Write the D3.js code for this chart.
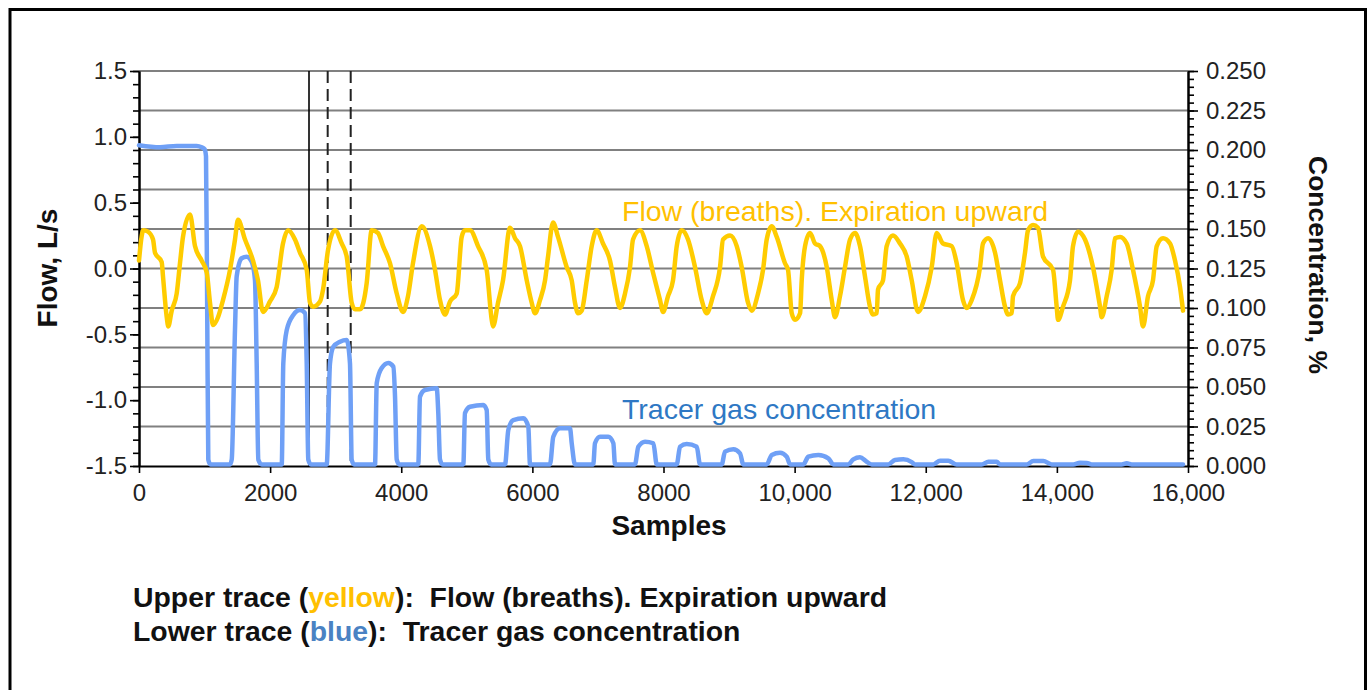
<!DOCTYPE html>
<html>
<head>
<meta charset="utf-8">
<script src="https://cdn.jsdelivr.net/npm/d3@7"></script>
<style>
  html, body { margin: 0; padding: 0; background: #fff; }
  svg { display: block; font-family: "Liberation Sans", Arial, Helvetica, sans-serif; }
</style>
</head>
<body>
<svg id="chart" width="1369" height="690"></svg>
<script>
// Flow trace (L/s) against sample number
const flowSamples = [
  0, 66, 137, 214, 244, 346, 366, 423, 447, 499, 575, 625, 671, 778, 854, 956,
  1033, 1083, 1129, 1205, 1281, 1388, 1464, 1510, 1617, 1739, 1815, 1891, 1998,
  2100, 2196, 2273, 2379, 2456, 2558, 2608, 2654, 2761, 2807, 2883, 2990, 3092,
  3168, 3244, 3295, 3371, 3473, 3549, 3645, 3722, 3828, 3931, 4027, 4103, 4179,
  4312, 4439, 4515, 4591, 4667, 4744, 4846, 4922, 4972, 5049, 5171, 5303, 5380,
  5400, 5476, 5552, 5659, 5735, 5811, 5914, 5990, 6040, 6116, 6193, 6239, 6315,
  6391, 6524, 6600, 6650, 6696, 6752, 6829, 6905, 6981, 7077, 7184, 7260, 7337,
  7413, 7489, 7535, 7642, 7744, 7840, 7947, 7993, 8069, 8145, 8202, 8278, 8374,
  8481, 8583, 8659, 8755, 8862, 8908, 9015, 9117, 9193, 9289, 9346, 9442, 9518,
  9574, 9651, 9727, 9853, 9899, 9956, 10006, 10083, 10108, 10159, 10235, 10311,
  10387, 10490, 10566, 10616, 10692, 10768, 10845, 10921, 10997, 11073, 11149,
  11195, 11252, 11272, 11348, 11404, 11500, 11607, 11710, 11786, 11882, 11989,
  12091, 12167, 12263, 12396, 12472, 12568, 12625, 12701, 12828, 12873, 12950,
  13057, 13133, 13209, 13255, 13311, 13331, 13438, 13514, 13560, 13636, 13712,
  13789, 13941, 13997, 14018, 14094, 14200, 14246, 14323, 14429, 14551, 14658,
  14684, 14760, 14836, 14886, 14963, 15065, 15161, 15268, 15314, 15390, 15466,
  15523, 15619, 15726, 15802, 15878, 15924
];
const flowValues = [
  0.06, 0.29, 0.28, 0.22, 0.12, 0.05, -0.06, -0.37, -0.44, -0.32, -0.19, 0.04, 0.24, 0.41, 0.17, 0.06,
  -0.03, -0.26, -0.43, -0.37, -0.24, -0.01, 0.22, 0.37, 0.22, 0.06, -0.09, -0.33, -0.25,
  -0.14, 0.19, 0.29, 0.22, 0.12, -0.01, -0.26, -0.29, -0.25, -0.16, 0.14, 0.29, 0.19,
  0.09, -0.26, -0.31, -0.31, -0.11, 0.29, 0.27, 0.17, 0.04, -0.19, -0.33, -0.21, 0.04,
  0.32, 0.17, -0.01, -0.24, -0.35, -0.25, -0.19, 0.24, 0.29, 0.29, 0.17, -0.01, -0.39,
  -0.44, -0.26, -0.09, 0.31, 0.23, 0.17, -0.09, -0.26, -0.34, -0.24, -0.09, 0.09, 0.35,
  0.24, 0.01, -0.09, -0.26, -0.34, -0.32, -0.09, 0.17, 0.29, 0.19, 0.06, -0.14, -0.30,
  -0.19, 0.01, 0.22, 0.29, 0.17, -0.03, -0.24, -0.33, -0.21, -0.09, 0.17, 0.29, 0.22,
  0.01, -0.24, -0.34, -0.21, 0.01, 0.22, 0.25, 0.17, 0.01, -0.26, -0.32, -0.19, -0.01,
  0.22, 0.32, 0.24, 0.04, -0.01, -0.34, -0.39, -0.34, -0.09, 0.17, 0.27, 0.19,
  0.17, 0.01, -0.24, -0.37, -0.21, 0.01, 0.22, 0.27, 0.17, -0.06, -0.29,
  -0.35, -0.34, -0.16, -0.09, 0.17, 0.25, 0.19, 0.09, -0.09, -0.33, -0.21,
  0.01, 0.27, 0.19, 0.17, 0.04, -0.24, -0.30, -0.24, 0.01, 0.19, 0.23,
  0.12, -0.09, -0.29, -0.35, -0.34, -0.21, -0.11, 0.12, 0.29, 0.33, 0.31,
  0.09, -0.01, -0.29, -0.39, -0.29, -0.09, 0.17, 0.28, 0.22, 0.01, -0.29,
  -0.37, -0.21, -0.01, 0.23, 0.24, 0.19, -0.01, -0.29, -0.44, -0.21, -0.09,
  0.17, 0.23, 0.19, 0.06, -0.14, -0.32
];

// Tracer gas concentration (%) against sample number
const tracerSamples = [
  0, 320, 575, 880, 956, 1000, 1022, 1040, 1057, 1090,
  1388, 1414, 1464, 1490, 1566, 1643, 1719, 1769, 1795, 1820, 1872,
  2177, 2201, 2253, 2354, 2456, 2532, 2558, 2582, 2620,
  2863, 2913, 2964, 3066, 3168, 3218, 3244, 3280,
  3600, 3626, 3702, 3803, 3879, 3905, 3931, 3970,
  4260, 4286, 4362, 4541, 4565, 4591, 4630,
  4947, 4972, 5049, 5252, 5303, 5328, 5370,
  5583, 5633, 5709, 5862, 5938, 5964,
  6269, 6319, 6421, 6574, 6600, 6650,
  6929, 6955, 7032, 7158, 7235, 7260,
  7565, 7616, 7718, 7845, 7897,
  8202, 8252, 8354, 8507, 8557,
  8888, 8938, 9065, 9167, 9217,
  9574, 9651, 9778, 9880, 9930,
  10133, 10209, 10362, 10514, 10590,
  10819, 10895, 10997, 11099, 11176,
  11429, 11531, 11658, 11786, 11836,
  12115, 12218, 12344, 12472,
  12854, 12955, 13083, 13133,
  13540, 13641, 13793, 13921,
  14251, 14353, 14455, 14531,
  14989, 15065, 15141, 15924
];
const tracerValues = [
  0.203, 0.2017, 0.2026, 0.2026, 0.2017, 0.2005, 0.196, 0.1, 0.004, 0.001,
  0.001, 0.004, 0.086, 0.12, 0.1315, 0.1325, 0.1293, 0.1177, 0.065, 0.004, 0.001,
  0.001, 0.065, 0.086, 0.0956, 0.0987, 0.0967, 0.065, 0.004, 0.001,
  0.001, 0.065, 0.0755, 0.0787, 0.0798, 0.065, 0.004, 0.001,
  0.001, 0.0525, 0.062, 0.0652, 0.0629, 0.0439, 0.004, 0.001,
  0.001, 0.0439, 0.0481, 0.0492, 0.0335, 0.004, 0.001,
  0.001, 0.0335, 0.0375, 0.0386, 0.0354, 0.004, 0.001,
  0.001, 0.0228, 0.0291, 0.0302, 0.0249, 0.001,
  0.001, 0.0185, 0.0239, 0.0239, 0.0144, 0.001,
  0.001, 0.0144, 0.0185, 0.0185, 0.0144, 0.001,
  0.001, 0.0122, 0.0154, 0.0144, 0.001,
  0.001, 0.0122, 0.0139, 0.0122, 0.001,
  0.001, 0.0091, 0.0106, 0.008, 0.001,
  0.001, 0.007, 0.0084, 0.0059, 0.001,
  0.001, 0.0059, 0.007, 0.0049, 0.001,
  0.001, 0.0042, 0.0055, 0.0027, 0.001,
  0.001, 0.0038, 0.0042, 0.0025, 0.001,
  0.001, 0.0034, 0.0034, 0.001,
  0.001, 0.0027, 0.0027, 0.001,
  0.001, 0.0032, 0.0032, 0.001,
  0.001, 0.0021, 0.0019, 0.001,
  0.001, 0.0018, 0.001, 0.001
];

// Reference markers (sample positions): one solid, two dashed
const markerSamples = [2593, 2878, 3229];
const markerDashed = [false, true, true];

// Tick labels
const xTickLabels = ["0", "2000", "4000", "6000", "8000", "10,000", "12,000", "14,000", "16,000"];
const flowTickLabels = ["-1.5", "-1.0", "-0.5", "0.0", "0.5", "1.0", "1.5"];
const concTickLabels = ["0.000", "0.025", "0.050", "0.075", "0.100", "0.125", "0.150", "0.175", "0.200", "0.225", "0.250"];

const svg = d3.select("#chart");

const x = d3.scaleLinear().domain([0, 16000]).range([139, 1188]);
const yFlow = d3.scaleLinear().domain([-1.5, 1.5]).range([466, 71]);
const yConc = d3.scaleLinear().domain([0, 0.25]).range([466, 71]);

const xTickVals = xTickLabels.map(s => +s.replace(/,/g, ""));
const flowTickVals = flowTickLabels.map(Number);
const concTickVals = concTickLabels.map(Number);

const tickFont = 24;

// outer frame
svg.append("rect")
  .attr("x", 10).attr("y", 9.5).attr("width", 1355.5).attr("height", 720)
  .attr("fill", "none").attr("stroke", "#000").attr("stroke-width", 3);

// horizontal grid from the concentration ticks
svg.append("g")
  .selectAll("line")
  .data(concTickVals.filter(v => v > 0))
  .join("line")
  .attr("x1", x(0)).attr("x2", x(16000))
  .attr("y1", d => yConc(d)).attr("y2", d => yConc(d))
  .attr("stroke", "#808080").attr("stroke-width", 2);

// marker lines
svg.append("g")
  .selectAll("line")
  .data(markerSamples)
  .join("line")
  .attr("x1", d => x(d)).attr("x2", d => x(d))
  .attr("y1", yFlow(1.5)).attr("y2", yFlow(-1.5))
  .attr("stroke", (d, i) => markerDashed[i] ? "#222" : "#000")
  .attr("stroke-width", (d, i) => markerDashed[i] ? 2 : 1.6)
  .attr("stroke-dasharray", (d, i) => markerDashed[i] ? "12,6" : null);

function styleAxis(g) {
  g.select(".domain").attr("stroke", "#000").attr("stroke-width", 2);
  g.selectAll(".tick line").attr("stroke", "#000").attr("stroke-width", 1.6);
  g.selectAll(".tick text")
    .attr("fill", "#222")
    .style("font-size", tickFont + "px");
}

// left axis: minor then major
svg.append("g")
  .attr("transform", `translate(${x(0)},0)`)
  .call(d3.axisLeft(yFlow).tickValues(d3.range(-15, 16).map(v => v / 10)).tickSize(6).tickSizeOuter(0).tickFormat(""))
  .call(styleAxis);
svg.append("g")
  .attr("transform", `translate(${x(0)},0)`)
  .call(d3.axisLeft(yFlow).tickValues(flowTickVals).tickSize(9).tickSizeOuter(0).tickPadding(3)
    .tickFormat((d, i) => flowTickLabels[i]))
  .call(styleAxis);

// right axis: minor then major
svg.append("g")
  .attr("transform", `translate(${x(16000)},0)`)
  .call(d3.axisRight(yConc).tickValues(d3.range(0, 51).map(v => v * 0.005)).tickSize(6).tickSizeOuter(0).tickFormat(""))
  .call(styleAxis);
svg.append("g")
  .attr("transform", `translate(${x(16000)},0)`)
  .call(d3.axisRight(yConc).tickValues(concTickVals).tickSize(10).tickSizeOuter(0).tickPadding(8)
    .tickFormat((d, i) => concTickLabels[i]))
  .call(styleAxis);

// bottom axis
svg.append("g")
  .attr("transform", `translate(0,${yFlow(-1.5)})`)
  .call(d3.axisBottom(x).tickValues(xTickVals).tickSize(7).tickSizeOuter(0).tickPadding(11)
    .tickFormat((d, i) => xTickLabels[i]))
  .call(styleAxis);

// traces
const tracerLine = d3.line()
  .x((d, i) => x(tracerSamples[i]))
  .y(d => yConc(d))
  .curve(d3.curveMonotoneX);
svg.append("path")
  .attr("d", tracerLine(tracerValues))
  .attr("fill", "none")
  .attr("stroke", "#6fa0f6")
  .attr("stroke-width", 4.5)
  .attr("stroke-linejoin", "round")
  .attr("stroke-linecap", "round");

const flowLine = d3.line()
  .x((d, i) => x(flowSamples[i]))
  .y(d => yFlow(d))
  .curve(d3.curveMonotoneX);
svg.append("path")
  .attr("d", flowLine(flowValues))
  .attr("fill", "none")
  .attr("stroke", "#ffcc00")
  .attr("stroke-width", 4.5)
  .attr("stroke-linejoin", "round")
  .attr("stroke-linecap", "round");

// in-plot labels
svg.append("text")
  .attr("x", 622).attr("y", 221)
  .attr("fill", "#ffc000")
  .style("font-size", "28.5px")
  .text("Flow (breaths). Expiration upward");
svg.append("text")
  .attr("x", 622).attr("y", 419)
  .attr("fill", "#2e78c4")
  .style("font-size", "28.5px")
  .text("Tracer gas concentration");

// axis titles
svg.append("text")
  .attr("transform", "translate(57,268) rotate(-90)")
  .attr("text-anchor", "middle")
  .attr("fill", "#111")
  .style("font-size", "28px").style("font-weight", "bold")
  .text("Flow, L/s");
svg.append("text")
  .attr("transform", "translate(1309,265) rotate(90)")
  .attr("text-anchor", "middle")
  .attr("fill", "#111")
  .style("font-size", "26.5px").style("font-weight", "bold")
  .text("Concentration, %");
svg.append("text")
  .attr("x", 669).attr("y", 535)
  .attr("text-anchor", "middle")
  .attr("fill", "#111")
  .style("font-size", "28px").style("font-weight", "bold")
  .text("Samples");

// caption lines
const caption = svg.append("g")
  .style("font-size", "28.4px").style("font-weight", "bold")
  .style("white-space", "pre")
  .attr("fill", "#111");
const c1 = caption.append("text").attr("x", 133).attr("y", 607).attr("xml:space", "preserve");
c1.append("tspan").text("Upper trace (");
c1.append("tspan").attr("fill", "#ffc000").text("yellow");
c1.append("tspan").text("):  Flow (breaths). Expiration upward");
const c2 = caption.append("text").attr("x", 133).attr("y", 641).attr("xml:space", "preserve");
c2.append("tspan").text("Lower trace (");
c2.append("tspan").attr("fill", "#4a82c3").text("blue");
c2.append("tspan").text("):  Tracer gas concentration");
</script>
</body>
</html>
